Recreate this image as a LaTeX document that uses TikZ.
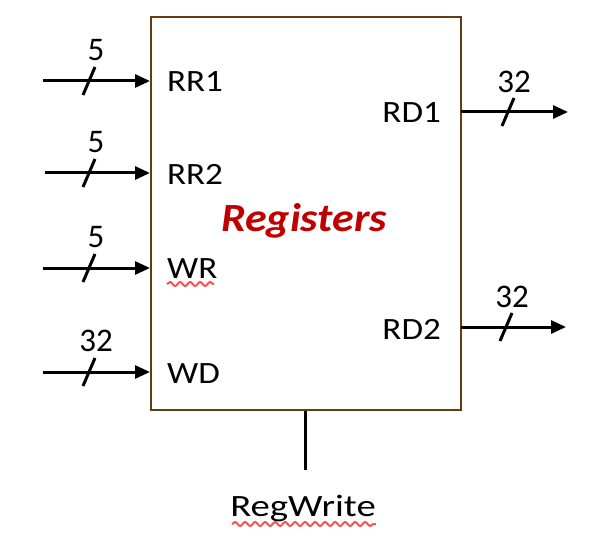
\documentclass[tikz,border=0pt]{standalone}
\usepackage{fontspec}
\setmainfont{Carlito}
\usetikzlibrary{arrows.meta,decorations.pathmorphing}
\definecolor{boxbrown}{RGB}{99,60,20}
\definecolor{regred}{RGB}{192,0,0}
\definecolor{spell}{RGB}{250,80,80}
\newcommand{\wide}[2]{\scalebox{#1}[1]{#2}}
\begin{document}
\begin{tikzpicture}[x=1pt,y=-1pt,
  lbl/.style={font=\fontsize{31}{31}\selectfont, inner sep=0pt},
  num/.style={font=\fontsize{33}{33}\selectfont, inner sep=0pt},
  bus/.style={line width=3pt, -{Triangle[length=15pt,width=13pt]}},
  slash/.style={line width=3pt},
  wavy/.style={spell, line width=2pt, decorate, decoration={snake, amplitude=2pt, segment length=10pt}}]
\useasboundingbox (0,0) rectangle (615,537);
% box
\node[draw=boxbrown, line width=2.2pt, minimum width=310pt, minimum height=393pt, inner sep=0pt] (reg) at (306,213.5) {};
\node[font=\fontsize{40}{40}\selectfont\bfseries\itshape, text=regred, inner sep=0pt] (title) at (304,221) {\wide{1.1}{Registers}};
% inputs
\foreach \nm/\yy/\bits/\xs in {rr1/81/5/43, rr2/173/5/45, wr/268/5/43, wd/372/32/43}{
  \coordinate (\nm s) at (\xs,\yy);
  \coordinate (\nm e) at (150,\yy);
  \draw[bus] (\nm s) -- (\nm e);
  \coordinate (\nm c) at (89,\yy);
  \draw[slash] ([shift={(-6,14)}]\nm c) -- ([shift={(6,-14)}]\nm c);
  \node[num] (\nm b) at (96,\yy-31) {\bits};
}
\node[lbl, anchor=west] (trr1) at (167,82) {\wide{1.13}{RR1}};
\node[lbl, anchor=west] (trr2) at (167,174) {\wide{1.13}{RR2}};
\node[lbl, anchor=west] (twr) at (167,269) {\wide{1.13}{WR}};
\node[lbl, anchor=west] (twd) at (167,374) {\wide{1.13}{WD}};
% outputs
\foreach \nm/\yy/\xe/\xc/\xl in {rd1/112/568/508/514, rd2/327/566/506/512}{
  \coordinate (\nm s) at (461,\yy);
  \coordinate (\nm e) at (\xe,\yy);
  \draw[bus] (\nm s) -- (\nm e);
  \coordinate (\nm c) at (\xc,\yy);
  \draw[slash] ([shift={(-6,14)}]\nm c) -- ([shift={(6,-14)}]\nm c);
  \node[num] (\nm b) at (\xl,\yy-30) {32};
}
\node[lbl, anchor=east] (trd1) at (441,113) {\wide{1.13}{RD1}};
\node[lbl, anchor=east] (trd2) at (441,329) {\wide{1.13}{RD2}};
% RegWrite
\coordinate (rwtop) at (305,411);
\coordinate (rwbot) at (305,470);
\draw[line width=3pt] (rwtop) -- (rwbot);
\node[lbl] (rw) at (303,508) {\wide{1.25}{RegWrite}};
% spell-check underlines
\draw[wavy] (167,284) -- (214,284);
\draw[wavy] (232,524) -- (376,524);
\end{tikzpicture}
\end{document}
